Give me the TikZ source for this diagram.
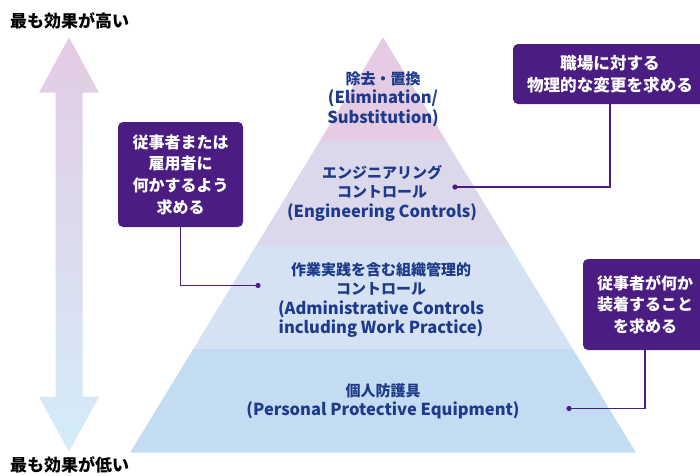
\documentclass[tikz,border=0pt]{standalone}
\usepackage{fontspec}
\setmainfont{Noto Sans CJK JP}
\usetikzlibrary{calc}
\definecolor{boxpurple}{HTML}{4B1C82}
\definecolor{txtblue}{HTML}{1E3A8A}
\definecolor{layA}{HTML}{E5CBE3}
\definecolor{layB}{HTML}{DCD8EC}
\definecolor{layC}{HTML}{D4E2F4}
\definecolor{layD}{HTML}{C3DCF1}
\definecolor{arrtop}{HTML}{E3CBE3}
\definecolor{arrbot}{HTML}{D4ECF9}
\newcommand{\enl}[1]{{\fontsize{16.5}{19.5}\selectfont #1}}
\begin{document}
\begin{tikzpicture}[x=1pt,y=-1pt,
  layertext/.style={font=\bfseries\fontsize{15}{19.5}\selectfont, text=txtblue, align=center, inner sep=0pt},
  purplebox/.style={fill=boxpurple, rounded corners=5pt, text=white, align=center, inner sep=0pt,
     font=\bfseries\fontsize{16}{21.7}\selectfont},
  conn/.style={draw=boxpurple, line width=1.4pt},
  endpt/.style={fill=boxpurple},
  edgelabel/.style={font=\bfseries\fontsize{17}{19}\selectfont, text=black, inner sep=0pt}
]
\useasboundingbox (0,0) rectangle (700,475);

% effectiveness arrow
\shade[top color=arrtop, bottom color=arrbot]
  (69,37.3) -- (99,92.7) -- (82.5,92.7) -- (82.5,396.7) -- (99,396.7) -- (69,451.7)
  -- (39,396.7) -- (55.5,396.7) -- (55.5,92.7) -- (39,92.7) -- cycle;
\node[edgelabel, anchor=west] (hi) at (10,20.5) {最も効果が高い};
\node[edgelabel, anchor=west] (lo) at (10,465) {最も効果が低い};

% pyramid
\coordinate (apex) at (383,37.3);
\fill[layA] (apex) -- (446.25,141.2) -- (319.75,141.2) -- cycle;
\fill[layB] (319.75,141.2) -- (446.25,141.2) -- (509.5,245) -- (256.5,245) -- cycle;
\fill[layC] (256.5,245) -- (509.5,245) -- (572.75,349) -- (193.25,349) -- cycle;
\fill[layD] (193.25,349) -- (572.75,349) -- (636,452.7) -- (130,452.7) -- cycle;

\node[layertext] (t1) at (383,99) {除去・置換\\ \enl{(Elimination/}\\ \enl{Substitution)}};
\node[layertext] (t2) at (382,193) {エンジニアリング\\ コントロール\\ \enl{(Engineering Controls)}};
\node[layertext] (t3) at (381,300) {作業実践を含む組織管理的\\ コントロール\\ \enl{(Administrative Controls}\\ \enl{including Work Practice)}};
\node[layertext] (t4) at (383,401.5) {個人防護具\\ \enl{(Personal Protective Equipment)}};

% callout boxes
\node[purplebox, minimum width=125pt, minimum height=105pt] (lbox) at (180.5,174.5)
  {従事者または\\ 雇用者に\\ 何かするよう\\ 求める};
\node[purplebox, minimum width=194pt, minimum height=60pt, text width=190pt,
      font=\bfseries\fontsize{16.6}{22.5}\selectfont] (rbox) at (610,74)
  {職場に対する\\ 物理的な変更を求める};
\node[purplebox, minimum width=124pt, minimum height=91pt, text width=120pt] (pbox) at (645,304.5)
  {従事者が何か\\ 装着すること\\ を求める};

% connectors
\coordinate (dl) at (258,285.5);
\coordinate (dr) at (455,187);
\coordinate (dp) at (569,408.5);
\draw[conn] (lbox.south) |- (dl);
\draw[conn] (rbox.south) |- (dr);
\draw[conn] (pbox.south) |- (dp);
\fill[endpt] (dl) circle (2.6pt);
\fill[endpt] (dr) circle (2.6pt);
\fill[endpt] (dp) circle (2.6pt);
\end{tikzpicture}
\end{document}
